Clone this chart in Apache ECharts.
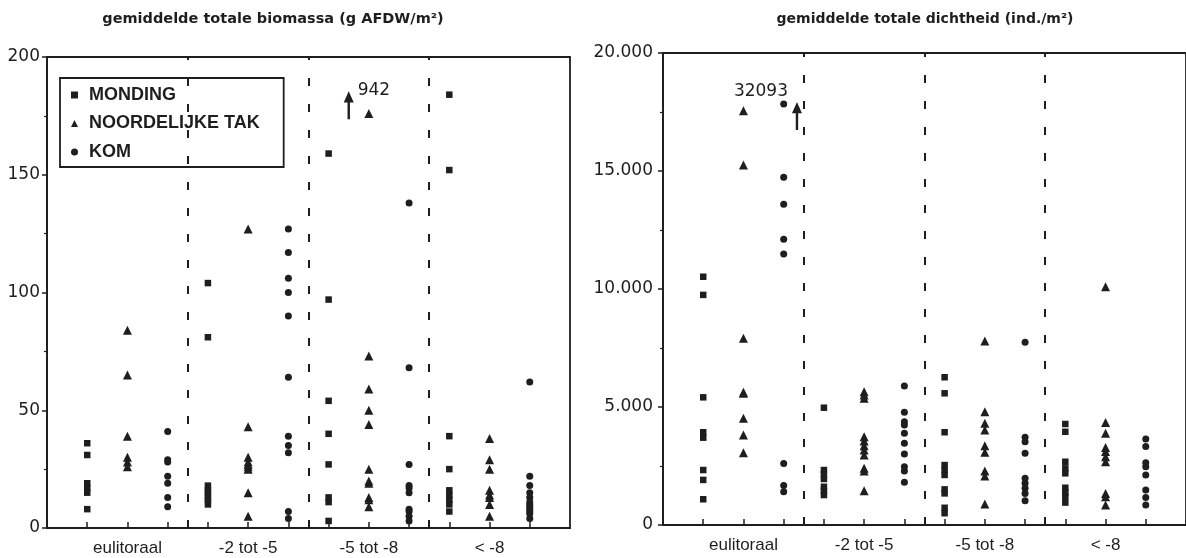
<!DOCTYPE html>
<html><head><meta charset="utf-8">
<script src="https://cdn.jsdelivr.net/npm/echarts@6/dist/echarts.min.js"></script>
<style>html,body{margin:0;padding:0;background:#fff}#c{width:1186px;height:558px}</style>
</head><body><div id="c"></div>
<script>
// ---- data ----
const groups = ['eulitoraal', '-2 tot -5', '-5 tot -8', '< -8'];
const seriesNames = ['MONDING', 'NOORDELIJKE TAK', 'KOM'];
const dividers = [3.5, 6.5, 9.5];
const bioTicks = [0, 50, 100, 150, 200];
const densTicks = [0, 5000, 10000, 15000, 20000];

const bioMonding = [
  [36, 31, 19, 17, 15, 8],
  [104, 81, 18, 16, 15, 13, 12, 10],
  [159, 97, 54, 40, 27, 13, 11, 3],
  [184, 152, 39, 25, 16, 14, 12, 10, 7]
];
const bioNoord = [
  [84, 65, 39, 30, 28, 26],
  [127, 43, 30, 28, 27, 26, 25, 15, 5],
  [176, 73, 59, 50, 44, 25, 20, 19, 13, 12, 9],
  [38, 29, 25, 16, 14, 13, 10, 5]
];
const bioKom = [
  [41, 29, 28, 22, 19, 13, 9],
  [127, 117, 106, 100, 90, 64, 39, 35, 32, 7, 4],
  [138, 68, 27, 18, 17, 15, 8, 7, 5, 3],
  [62, 22, 18, 15, 13, 11, 10, 9, 8, 7, 6, 4]
];
const densMonding = [
  [10520, 9750, 5410, 3930, 3700, 2330, 1910, 1090],
  [4970, 2330, 2150, 1950, 1620, 1450, 1270],
  [6260, 5580, 3930, 2540, 2330, 2120, 1510, 1340, 730, 500],
  [4280, 3950, 2680, 2400, 2190, 1580, 1370, 1200, 950]
];
const densNoord = [
  [17550, 15250, 7910, 5620, 5580, 4520, 3810, 3060],
  [5650, 5510, 5370, 3740, 3560, 3360, 3180, 2970, 2400, 2290, 1450],
  [7800, 4800, 4310, 4030, 3360, 3080, 2290, 2080, 890],
  [10100, 4340, 3890, 3280, 3110, 2890, 2680, 1340, 1200, 850]
];
const densKom = [
  [17840, 14730, 13590, 12110, 11480, 2610, 1670, 1410],
  [5890, 4780, 4380, 4240, 3890, 3460, 3010, 2470, 2290, 1810],
  [7740, 3720, 3530, 3040, 1980, 1770, 1560, 1340, 1030],
  [3640, 3330, 2640, 2470, 2120, 1480, 1170, 850]
];
// off-scale values (arrow annotations)
const bioOffLabel = '942';
const densOffLabel = '32093';

// ---- chart ----
const INK = '#1e1e1e';
const chart = echarts.init(document.getElementById('c'), null, {renderer: 'canvas'});
const colOf = (g, s) => g * 3 + s + 1;  // column positions 1..12
const toPts = (arr, s) => arr.flatMap((vals, g) => vals.map(v => [colOf(g, s), v]));
const colTicks = [];
for (let i = 1; i <= 12; i++) colTicks.push(i);
const xTicks = colTicks.concat(dividers).sort((a, b) => a - b);
const labelCols = groups.map((_, g) => colOf(g, 1));

const symbols = ['rect', 'triangle', 'circle'];
const sizes = [6.5, 9, 7];
const arrowPath = 'path://M5,0 L10,12 L6.2,12 L6.2,30 L3.8,30 L3.8,12 L0,12 Z';

function xAxis(gi) {
  return {
    type: 'value', gridIndex: gi, min: 0, max: 13,
    splitLine: {show: false},
    axisLine: {lineStyle: {color: INK, width: 1.8}},
    axisTick: {inside: true, length: 6, customValues: xTicks, lineStyle: {color: INK, width: 1.5}},
    axisLabel: {customValues: labelCols, formatter: v => groups[labelCols.indexOf(v)] || '',
      fontFamily: 'Liberation Sans', fontSize: 17, color: INK, margin: 12}
  };
}
function yAxis(gi, max, interval, fmt, margin) {
  return {
    type: 'value', gridIndex: gi, min: 0, max: max, interval: interval,
    splitLine: {show: false},
    axisLine: {show: true, lineStyle: {color: INK, width: 1.8}},
    axisTick: {show: true, length: 5, lineStyle: {color: INK, width: 1.5}},
    minorTick: {show: true, splitNumber: 2, length: 3, lineStyle: {color: INK, width: 1.2}},
    axisLabel: {formatter: fmt, fontFamily: 'DejaVu Sans', fontSize: 17, color: INK, margin: margin}
  };
}
function dataSeries(gi, arrays) {
  return arrays.map((arr, s) => ({
    name: seriesNames[s], type: 'scatter', xAxisIndex: gi, yAxisIndex: gi,
    symbol: symbols[s], symbolSize: sizes[s], data: toPts(arr, s),
    itemStyle: {color: INK, opacity: 1}, silent: true, z: 3
  }));
}
function dividerSeries(gi) {
  return {
    type: 'scatter', xAxisIndex: gi, yAxisIndex: gi, data: [], silent: true,
    markLine: {silent: true, symbol: 'none', label: {show: false},
      lineStyle: {color: INK, type: [8, 18], width: 2, dashOffset: 0, opacity: 1},
      data: dividers.map(d => ({xAxis: d}))}
  };
}
function arrowSeries(gi, pt, label, pos) {
  return {
    type: 'scatter', xAxisIndex: gi, yAxisIndex: gi, silent: true,
    symbol: arrowPath, symbolSize: [10, 28], itemStyle: {color: INK, opacity: 1},
    data: [pt],
    label: {show: true, formatter: label, position: pos.position, offset: pos.offset, distance: 4,
      fontFamily: 'DejaVu Sans', fontSize: 17, color: INK, opacity: 1, textBorderWidth: 0}
  };
}

const option = {
  backgroundColor: '#fff',
  animation: false,
  title: [
    {text: 'gemiddelde totale biomassa (g AFDW/m²)', left: 268, top: 7, textAlign: 'center',
      textStyle: {fontFamily: 'DejaVu Sans', fontWeight: 'bold', fontSize: 14.5, color: INK}},
    {text: 'gemiddelde totale dichtheid (ind./m²)', left: 920, top: 7, textAlign: 'center',
      textStyle: {fontFamily: 'DejaVu Sans', fontWeight: 'bold', fontSize: 14, color: INK}}
  ],
  legend: {
    data: seriesNames.map((n, i) => ({name: n, icon: symbols[i]})),
    orient: 'vertical', left: 60, top: 78,
    itemWidth: 7, itemHeight: 7, itemGap: 8.5,
    padding: [7, 24, 5, 11],
    borderColor: INK, borderWidth: 1.8,
    selectedMode: false,
    textStyle: {fontFamily: 'Liberation Sans', fontWeight: 'bold', fontSize: 18, color: INK,
      lineHeight: 20, padding: [0, 0, 0, 6]},
    itemStyle: {color: INK}
  },
  grid: [
    {left: 47, top: 57, width: 523, height: 471, show: true, borderColor: INK, borderWidth: 1.8, backgroundColor: 'transparent'},
    {left: 663, top: 53, width: 523, height: 472, show: true, borderColor: INK, borderWidth: 1.8, backgroundColor: 'transparent'}
  ],
  xAxis: [xAxis(0), xAxis(1)],
  yAxis: [
    yAxis(0, 200, 50, v => String(v), 7),
    yAxis(1, 20000, 5000, v => v === 0 ? '0' : (v / 1000).toFixed(3), 10)
  ],
  series: [
    ...dataSeries(0, [bioMonding, bioNoord, bioKom]),
    ...dataSeries(1, [densMonding, densNoord, densKom]),
    dividerSeries(0), dividerSeries(1),
    arrowSeries(0, [colOf(2, 1) - 0.5, 179.5], bioOffLabel, {position: 'right', offset: [0, -15]}),
    arrowSeries(1, [colOf(0, 2) + 0.33, 17330], densOffLabel, {position: 'left', offset: [0, -24]})
  ]
};
chart.setOption(option);
</script></body></html>
